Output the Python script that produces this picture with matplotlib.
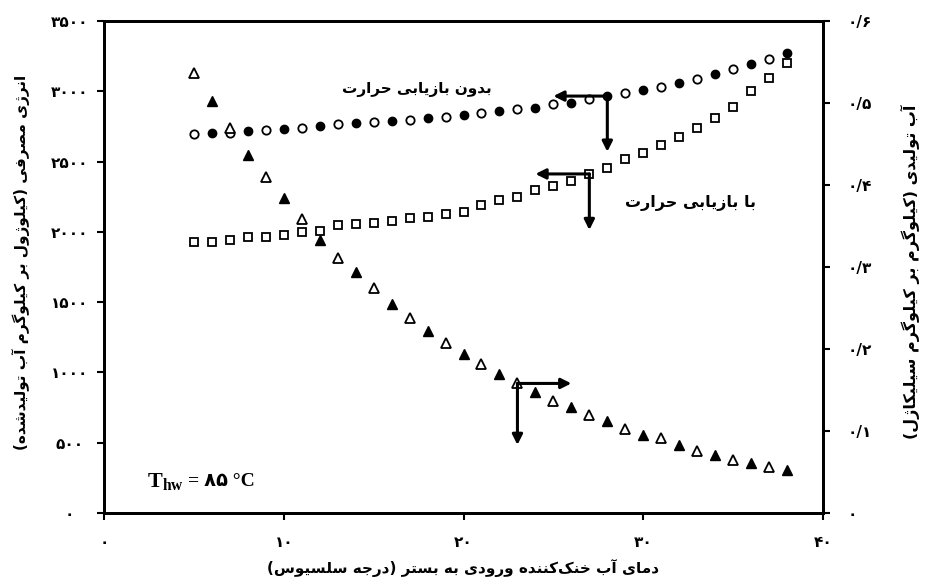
import numpy as np
import matplotlib
matplotlib.use('Agg')
from matplotlib import pyplot as plt

plt.rcParams['font.family'] = ['DejaVu Sans']
plt.rcParams['font.weight'] = 'bold'
plt.rcParams['mathtext.fontset'] = 'custom'
plt.rcParams['mathtext.rm'] = 'Liberation Serif:bold'
plt.rcParams['mathtext.bf'] = 'Liberation Serif:bold'

# temperature of cooling water (deg C)
temps = [5, 6, 7, 8, 9, 10, 11, 12, 13, 14, 15, 16, 17, 18, 19, 20, 21,
         22, 23, 24, 25, 26, 27, 28, 29, 30, 31, 32, 33, 34, 35, 36, 37, 38]

# energy use without heat recovery (kJ/kg water)
energy_no_rec = [2696, 2703, 2705, 2717, 2725, 2729, 2737, 2750, 2765, 2772,
                 2784, 2789, 2796, 2812, 2819, 2831, 2843, 2860, 2874, 2883,
                 2912, 2920, 2945, 2966, 2988, 3010, 3033, 3057, 3087, 3123,
                 3156, 3194, 3227, 3275]

# energy use with heat recovery (kJ/kg water)
energy_rec = [1930, 1930, 1942, 1960, 1966, 1978, 2001, 2008, 2049, 2053,
              2061, 2077, 2096, 2108, 2127, 2141, 2191, 2227, 2248, 2298,
              2326, 2362, 2412, 2452, 2516, 2559, 2615, 2677, 2741, 2808,
              2886, 3002, 3092, 3203]

# water production (kg/kg silica gel)
water = [0.537, 0.502, 0.469, 0.437, 0.410, 0.384, 0.358, 0.333, 0.311, 0.294,
         0.274, 0.255, 0.238, 0.222, 0.207, 0.194, 0.182, 0.170, 0.158, 0.148,
         0.136, 0.129, 0.120, 0.112, 0.103, 0.095, 0.091, 0.083, 0.076, 0.071,
         0.065, 0.061, 0.056, 0.052]

x_ticks = [0, 10, 20, 30, 40]
x_labels = ['۰', '۱۰', '۲۰', '۳۰', '۴۰']
left_ticks = [0, 500, 1000, 1500, 2000, 2500, 3000, 3500]
left_labels = ['۰', '۵۰۰', '۱۰۰۰', '۱۵۰۰', '۲۰۰۰', '۲۵۰۰', '۳۰۰۰', '۳۵۰۰']
right_ticks = [0, 0.1, 0.2, 0.3, 0.4, 0.5, 0.6]
right_labels = ['۰', '۰/۱', '۰/۲', '۰/۳', '۰/۴', '۰/۵', '۰/۶']

# simple arabic-script shaping: (isolated, final, initial, medial)
FORMS = {
    'ا': ('\uFE8D', '\uFE8E', None, None),
    'آ': ('\uFE81', '\uFE82', None, None),
    'ب': ('\uFE8F', '\uFE90', '\uFE91', '\uFE92'),
    'ت': ('\uFE95', '\uFE96', '\uFE97', '\uFE98'),
    'ج': ('\uFE9D', '\uFE9E', '\uFE9F', '\uFEA0'),
    'ح': ('\uFEA1', '\uFEA2', '\uFEA3', '\uFEA4'),
    'خ': ('\uFEA5', '\uFEA6', '\uFEA7', '\uFEA8'),
    'د': ('\uFEA9', '\uFEAA', None, None),
    'ر': ('\uFEAD', '\uFEAE', None, None),
    'ز': ('\uFEAF', '\uFEB0', None, None),
    'ژ': ('\uFB8A', '\uFB8B', None, None),
    'س': ('\uFEB1', '\uFEB2', '\uFEB3', '\uFEB4'),
    'ش': ('\uFEB5', '\uFEB6', '\uFEB7', '\uFEB8'),
    'ص': ('\uFEB9', '\uFEBA', '\uFEBB', '\uFEBC'),
    'ف': ('\uFED1', '\uFED2', '\uFED3', '\uFED4'),
    'ک': ('\uFB8E', '\uFB8F', '\uFB90', '\uFB91'),
    'گ': ('\uFB92', '\uFB93', '\uFB94', '\uFB95'),
    'ل': ('\uFEDD', '\uFEDE', '\uFEDF', '\uFEE0'),
    'م': ('\uFEE1', '\uFEE2', '\uFEE3', '\uFEE4'),
    'ن': ('\uFEE5', '\uFEE6', '\uFEE7', '\uFEE8'),
    'و': ('\uFEED', '\uFEEE', None, None),
    'ه': ('\uFEE9', '\uFEEA', '\uFEEB', '\uFEEC'),
    'ی': ('\uFBFC', '\uFBFD', '\uFBFE', '\uFBFF'),
}


def fa(s):
    out = []
    for i, ch in enumerate(s):
        if ch == '\u200c':
            continue
        if ch not in FORMS:
            out.append(ch)
            continue
        iso, fin, ini, med = FORMS[ch]
        prev = s[i - 1] if i > 0 else ''
        nxt = s[i + 1] if i < len(s) - 1 else ''
        jp = prev in FORMS and FORMS[prev][2] is not None
        jn = ini is not None and nxt in FORMS
        if jp and jn:
            out.append(med)
        elif jp:
            out.append(fin)
        elif jn:
            out.append(ini)
        else:
            out.append(iso)
    return ''.join(out)[::-1].translate(str.maketrans('()', ')('))


fig = plt.figure(figsize=(9.26, 5.87), dpi=100)
ax = fig.add_axes([0.1123, 0.1261, 0.7765, 0.8381])
ax2 = ax.twinx()

t = np.array(temps)
e1 = np.array(energy_no_rec)
e2 = np.array(energy_rec)
w = np.array(water)
odd = t % 2 == 1
even = ~odd

ms = 6
ax.plot(t[odd], e1[odd], 'o', ms=ms, mfc='white', mec='black', mew=1.3, ls='none')
ax.plot(t[even], e1[even], 'o', ms=ms, mfc='black', mec='black', ls='none')
ax.plot(t, e2, 's', ms=5.5, mfc='white', mec='black', mew=1.3, ls='none')
ax2.plot(t[odd], w[odd], '^', ms=7.5, mfc='white', mec='black', mew=1.3, ls='none')
ax2.plot(t[even], w[even], '^', ms=7.5, mfc='black', mec='black', ls='none')

ax.set_xlim(0, 40)
ax.set_ylim(0, 3500)
ax2.set_ylim(0, 0.6)

ax.set_xticks(x_ticks)
ax.set_xticklabels(x_labels)
ax.set_yticks(left_ticks)
ax.set_yticklabels(left_labels)
ax2.set_yticks(right_ticks)
ax2.set_yticklabels(right_labels)

for a in (ax, ax2):
    for s in a.spines.values():
        s.set_linewidth(2)
    a.tick_params(direction='out', length=5, width=1.5, labelsize=11)
ax.tick_params(axis='x', pad=11)
ax.tick_params(axis='y', pad=20)
for lab in ax.get_yticklabels():
    lab.set_horizontalalignment('center')
ax2.tick_params(axis='y', pad=13)

arrow = dict(arrowstyle='-|>', lw=2.2, color='black', mutation_scale=15,
             shrinkA=0, shrinkB=0)
# without heat recovery: arrows from the point at 28
i = temps.index(28)
ax.annotate('', xy=(25, e1[i]), xytext=(28, e1[i]), arrowprops=arrow)
ax.annotate('', xy=(28, 2570), xytext=(28, e1[i]), arrowprops=arrow)
# with heat recovery: arrows from the point at 27
i = temps.index(27)
ax.annotate('', xy=(24, e2[i]), xytext=(27, e2[i]), arrowprops=arrow)
ax.annotate('', xy=(27, 2013), xytext=(27, e2[i]), arrowprops=arrow)
# water production: arrows from the point at 23
i = temps.index(23)
ax2.annotate('', xy=(26, w[i]), xytext=(23, w[i]), arrowprops=arrow)
ax2.annotate('', xy=(23, 0.083), xytext=(23, w[i]), arrowprops=arrow)

ax.text(17.4, 3016, fa('بدون بازیابی حرارت'), ha='center', va='center',
        fontsize=11, fontweight='bold')
ax.text(32.6, 2205, fa('با بازیابی حرارت'), ha='center', va='center',
        fontsize=11.5, fontweight='bold')

ax.text(0.06, 0.063, r'$\mathbf{T_{hw}}$', transform=ax.transAxes,
        ha='left', va='center', fontsize=16)
ax.text(0.117, 0.063, '= ۸۵ °C', transform=ax.transAxes, ha='left',
        va='center', fontsize=14, fontweight='bold',
        family=['Liberation Serif', 'DejaVu Sans'])

ax.set_xlabel(fa('دمای آب خنک\u200cکننده ورودی به بستر (درجه سلسیوس)'),
              fontsize=11, fontweight='bold', va='center')
ax.xaxis.set_label_coords(0.5, -0.112)
ax.set_ylabel(fa('انرژی مصرفی (کیلوژول بر کیلوگرم آب تولیدشده)'),
              fontsize=11, fontweight='bold', va='center', ha='center')
ax.yaxis.set_label_coords(-0.115, 0.51)
ax2.set_ylabel(fa('آب تولیدی (کیلوگرم بر کیلوگرم سیلیکاژل)'),
               fontsize=11.5, fontweight='bold', va='center', ha='center',
               rotation=90)
ax2.yaxis.set_label_coords(1.121, 0.49)

fig.savefig('out.png', dpi=100)
